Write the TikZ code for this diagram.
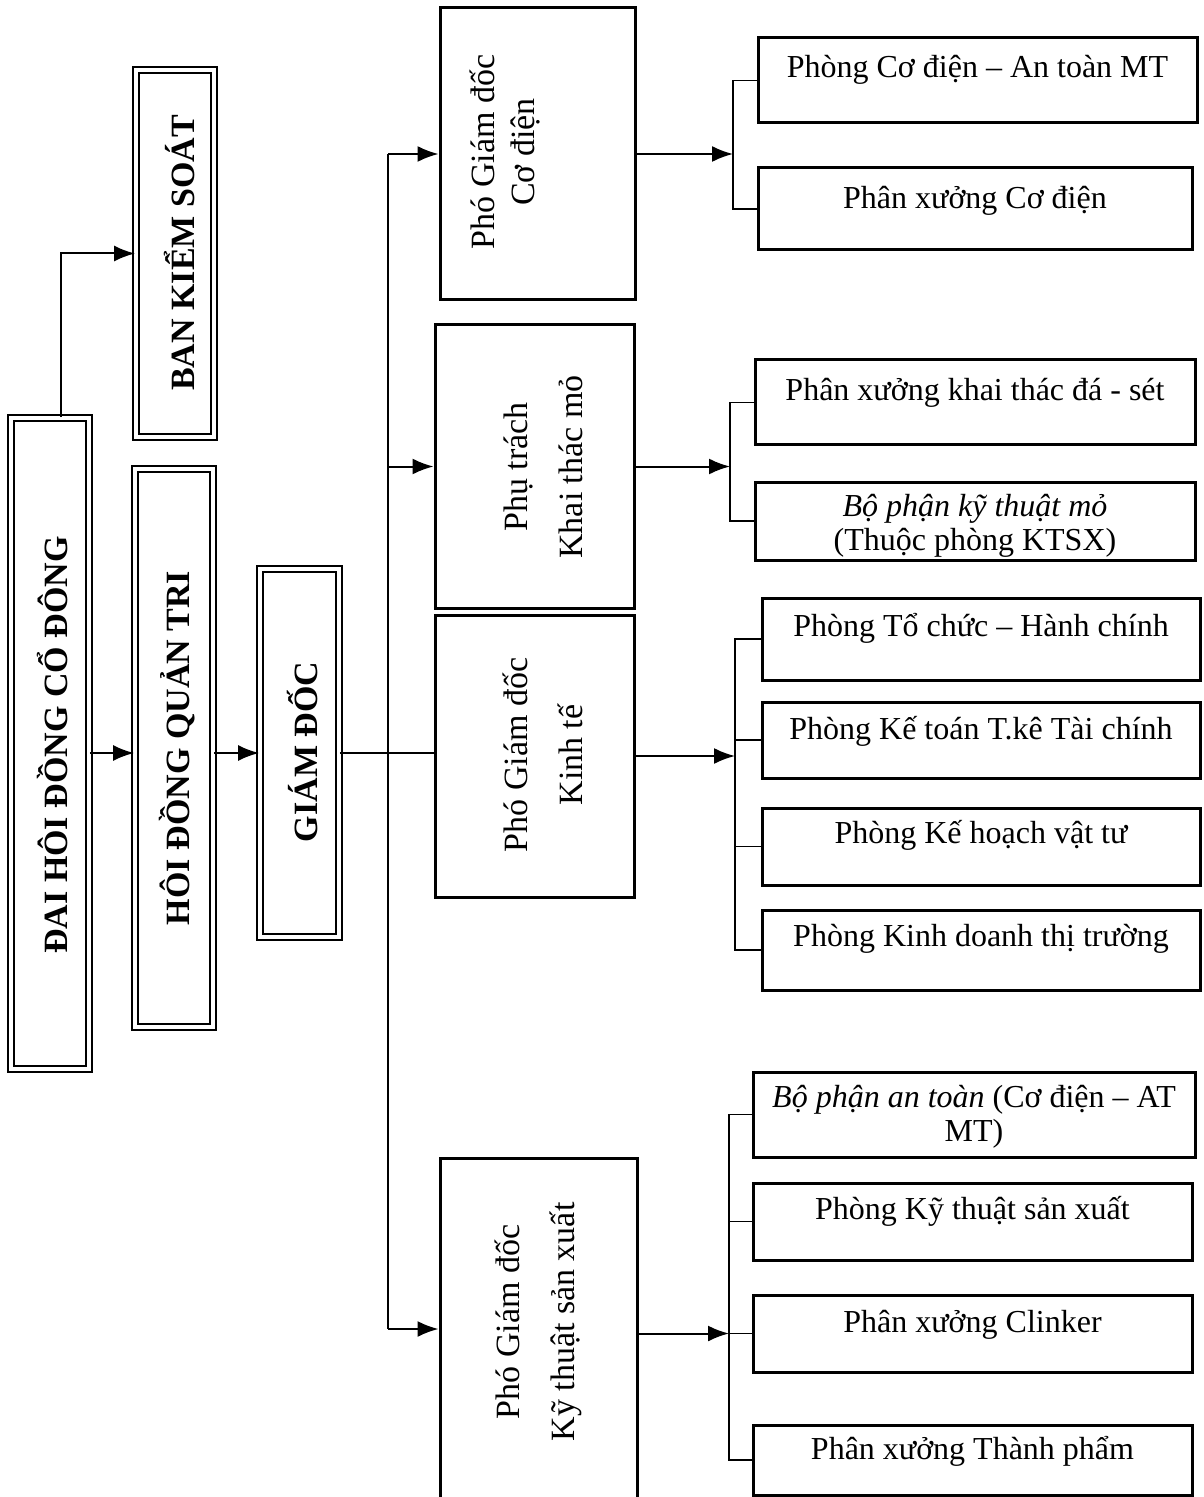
\documentclass[tikz,border=0pt]{standalone}
\usepackage{fontspec}
\setmainfont{Liberation Serif}
\usetikzlibrary{arrows.meta,fit,calc}
\begin{document}
\begin{tikzpicture}[x=0.5pt,y=-0.5pt,
  dbox/.style={draw, double, double distance=2pt, line width=0.9pt, inner sep=0pt},
  mbox/.style={draw, line width=1.5pt, inner sep=0pt},
  rbox/.style={draw, line width=1.5pt, inner sep=0pt},
  btxt/.style={rotate=90, font=\fontsize{17}{20}\bfseries\selectfont, inner sep=0pt},
  mtxt/.style={rotate=90, align=center, inner sep=0pt},
  rtxt/.style={align=center, font=\fontsize{16}{17}\selectfont, inner sep=0pt},
  arr/.style={line width=1pt, -{Latex[length=10.5pt,width=8pt]}},
  conn/.style={line width=1pt},
  brk/.style={line width=0.8pt}]

\useasboundingbox[fill=white] (0,0) rectangle (1203,1497);

% left column (double boxes)
\node[dbox, fit={(11,418) (89,1069)}] (dh) {};
\node[btxt] (tdh) at (53,745) {ĐAI HÔI ĐỒNG CỔ ĐÔNG};
\node[dbox, fit={(136,70) (214,437)}] (bks) {};
\node[btxt] (tbks) at (180,253) {BAN KIỂM SOÁT};
\node[dbox, fit={(135,469) (213,1027)}] (hd) {};
\node[btxt] (thd) at (177,748) {HÔI ĐỒNG QUẢN TRI};
\node[dbox, fit={(260,569) (339,937)}] (gd) {};
\node[btxt] (tgd) at (303,752) {GIÁM ĐỐC};

% middle column
\node[mbox, fit={(440,8) (635,300)}] (pcd) {};
\node[mtxt, font=\fontsize{17}{20}\selectfont] (tpcd) at (505,152) {Phó Giám đốc\\Cơ điện};
\node[mbox, fit={(435,325) (634,608)}] (ptr) {};
\node[mtxt, font=\fontsize{17}{27.5}\selectfont] (tptr) at (543,467) {Phụ trách\\Khai thác mỏ};
\node[mbox, fit={(435,615) (634,897)}] (pkt) {};
\node[mtxt, font=\fontsize{17}{27.5}\selectfont] (tpkt) at (543,755) {Phó Giám đốc\\Kinh tế};
\node[mbox, fit={(440,1158) (637,1500)}] (kts) {};
\node[mtxt, font=\fontsize{17}{27.5}\selectfont] (tkts) at (538,1322) {Phó Giám đốc\\Kỹ thuật sản xuất};

% right column
\node[rbox, fit={(758,38) (1197,123)}] (r1) {};
\node[rtxt] (t1) at ($(r1.north)+(0,33)$) {Phòng Cơ điện – An toàn MT};
\node[rbox, fit={(758,168) (1192,250)}] (r2) {};
\node[rtxt] (t2) at ($(r2.north)+(0,34)$) {Phân xưởng Cơ điện};

\node[rbox, fit={(755,360) (1195,445)}] (r3) {};
\node[rtxt] (t3) at ($(r3.north)+(0,34)$) {Phân xưởng khai thác đá - sét};
\node[rbox, fit={(755,482) (1195,560)}] (r4) {};
\node[rtxt] (t4) at ($(r4.north)+(0,45)$) {\textit{Bộ phận kỹ thuật mỏ}\\(Thuộc phòng KTSX)};

\node[rbox, fit={(762,598) (1200,680)}] (r5) {};
\node[rtxt] (t5) at ($(r5.north)+(0,32)$) {Phòng Tổ chức – Hành chính};
\node[rbox, fit={(762,702) (1200,778)}] (r6) {};
\node[rtxt] (t6) at ($(r6.north)+(0,31)$) {Phòng Kế toán T.kê Tài chính};
\node[rbox, fit={(762,808) (1200,885)}] (r7) {};
\node[rtxt] (t7) at ($(r7.north)+(0,29)$) {Phòng Kế hoạch vật tư};
\node[rbox, fit={(762,910) (1200,990)}] (r8) {};
\node[rtxt] (t8) at ($(r8.north)+(0,30)$) {Phòng Kinh doanh thị trường};

\node[rbox, fit={(753,1072) (1195,1157)}] (r9) {};
\node[rtxt] (t9) at ($(r9.north)+(0,46)$) {\textit{Bộ phận an toàn} (Cơ điện – AT\\MT)};
\node[rbox, fit={(753,1183) (1192,1260)}] (r10) {};
\node[rtxt] (t10) at ($(r10.north)+(0,30)$) {Phòng Kỹ thuật sản xuất};
\node[rbox, fit={(753,1295) (1192,1372)}] (r11) {};
\node[rtxt] (t11) at ($(r11.north)+(0,31)$) {Phân xưởng Clinker};
\node[rbox, fit={(753,1425) (1192,1495)}] (r12) {};
\node[rtxt] (t12) at ($(r12.north)+(0,28)$) {Phân xưởng Thành phẩm};

% left connectors
\coordinate (dhtop) at ($(dh.north west)!0.64!(dh.north east)$);
\draw[arr] (dhtop) |- (bks.west);
\draw[arr] (dh.east |- gd.west) -- (hd.west |- gd.west);
\draw[arr] (hd.east |- gd.west) -- (gd.west);
\draw[conn] (gd.east) -- (pkt.west |- gd.east);

% bus to deputies
\coordinate (bx) at (388,0);
\draw[conn] (pcd.west -| bx) -- (kts.west -| bx);
\draw[arr] (pcd.west -| bx) -- (pcd.west);
\draw[arr] (ptr.west -| bx) -- (ptr.west);
\draw[arr] (kts.west -| bx) -- (kts.west);

% brackets
\coordinate (b1) at (733,0);
\draw[arr] (pcd.east) -- (pcd.east -| b1);
\draw[brk] (r1.west) -- (r1.west -| b1) -- (r2.west -| b1) -- (r2.west);

\coordinate (b2) at (730,0);
\draw[arr] (ptr.east) -- (ptr.east -| b2);
\draw[brk] (r3.west) -- (r3.west -| b2) -- (r4.west -| b2) -- (r4.west);

\coordinate (b3) at (735,0);
\draw[arr] (pkt.east) -- (pkt.east -| b3);
\draw[brk] (r5.west) -- (r5.west -| b3) -- (r8.west -| b3) -- (r8.west);
\draw[brk] (r6.west) -- (r6.west -| b3);
\draw[brk] (r7.west) -- (r7.west -| b3);

\coordinate (b4) at (729,0);
\draw[arr] (kts.east |- r11.west) -- (r11.west -| b4);
\draw[brk] (r9.west) -- (r9.west -| b4) -- (r12.west -| b4) -- (r12.west);
\draw[brk] (r10.west) -- (r10.west -| b4);
\draw[brk] (r11.west) -- (r11.west -| b4);
\end{tikzpicture}
\end{document}
